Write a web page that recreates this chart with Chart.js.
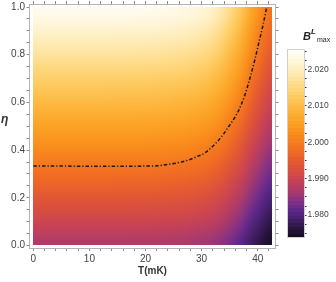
<!DOCTYPE html>
<html><head><meta charset="utf-8">
<script src="https://cdn.jsdelivr.net/npm/chart.js@4"></script>
<style>
html,body{margin:0;padding:0;background:#fff;}
#wrap{position:relative;width:336px;height:282px;overflow:hidden;font-family:'Liberation Sans',Arial,sans-serif;}
#main{position:absolute;left:0;top:0;}
#cb{position:absolute;left:284px;top:40px;}
#eta{position:absolute;left:1px;top:112px;font:bold italic 12px 'Liberation Sans',Arial,sans-serif;color:#333;line-height:14px;}
#cbt{position:absolute;left:303px;top:30px;color:#222;white-space:nowrap;width:33px;height:16px;}
#cbt span{position:absolute;line-height:1;}
#cbt .B{left:0;top:0;font:bold italic 11px 'Liberation Sans',Arial,sans-serif;}
#cbt .L{left:8px;top:-3px;font:bold italic 8px 'Liberation Sans',Arial,sans-serif;}
#cbt .m{left:14px;top:6px;font:7px 'Liberation Sans',Arial,sans-serif;}
</style></head>
<body><div id="wrap">
<canvas id="main" width="336" height="282"></canvas>
<canvas id="cb" width="52" height="205"></canvas>
<div id="eta">η</div>
<div id="cbt"><span class="B">B</span><span class="L">L</span><span class="m">max</span></div>
</div>
<script>
// ---- data ----
const xTickVals = [0,2,4,6,8,10,12,14,16,18,20,22,24,26,28,30,32,34,36,38,40,42];
const xLabelTicks = [0,10,20,30,40];
const yTickVals = [0,0.05,0.1,0.15,0.2,0.25,0.3,0.35,0.4,0.45,0.5,0.55,0.6,0.65,0.7,0.75,0.8,0.85,0.9,0.95,1.0];
const yLabelTicks = [0,0.2,0.4,0.6,0.8,1.0];
const cbTickVals = [1.975,1.9775,1.98,1.9825,1.985,1.9875,1.99,1.9925,1.995,1.9975,2.0,2.0025,2.005,2.0075,2.01,2.0125,2.015,2.0175,2.02,2.0225,2.025];
const cbLabelTicks = [1.98,1.99,2.00,2.01,2.02];

// B^L_max sampled on a grid: T (mK) sample positions, eta sample positions, one row per eta
const tRange = [0, 42.6];
const etaRange = [0, 1];
const tSamples = [5,13,18,21.5,24.5,27,29,31,32.75,34.25,35.75,37,38,39,40,41,42.05];
const etaSamples = [0.025,0.075,0.125,0.175,0.225,0.275,0.325,0.375,0.425,0.475,0.525,0.575,0.625,0.675,0.725,0.775,0.825,0.875,0.925,0.975];
const r00 = [1.9875,1.9875,1.9874,1.9874,1.9872,1.9870,1.9866,1.9861,1.9852,1.9841,1.9827,1.9813,1.9799,1.9785,1.9774,1.9761,1.9751];
const r01 = [1.9894,1.9894,1.9894,1.9893,1.9891,1.9889,1.9885,1.9880,1.9871,1.9859,1.9844,1.9830,1.9815,1.9800,1.9789,1.9776,1.9765];
const r02 = [1.9913,1.9913,1.9913,1.9912,1.9910,1.9908,1.9904,1.9899,1.9889,1.9877,1.9861,1.9847,1.9831,1.9816,1.9804,1.9790,1.9779];
const r03 = [1.9932,1.9932,1.9932,1.9931,1.9929,1.9927,1.9923,1.9918,1.9907,1.9894,1.9878,1.9863,1.9847,1.9831,1.9819,1.9805,1.9793];
const r04 = [1.9952,1.9952,1.9951,1.9950,1.9948,1.9946,1.9942,1.9936,1.9925,1.9912,1.9895,1.9880,1.9863,1.9846,1.9833,1.9819,1.9807];
const r05 = [1.9971,1.9971,1.9970,1.9970,1.9967,1.9965,1.9961,1.9955,1.9944,1.9930,1.9912,1.9896,1.9879,1.9861,1.9848,1.9833,1.9821];
const r06 = [1.9990,1.9990,1.9990,1.9989,1.9986,1.9984,1.9980,1.9973,1.9962,1.9947,1.9929,1.9913,1.9895,1.9876,1.9862,1.9847,1.9834];
const r07 = [2.0009,2.0009,2.0009,2.0008,2.0005,2.0003,1.9999,1.9992,1.9980,1.9965,1.9946,1.9929,1.9910,1.9891,1.9877,1.9860,1.9847];
const r08 = [2.0029,2.0029,2.0028,2.0027,2.0024,2.0022,2.0017,2.0010,1.9998,1.9983,1.9963,1.9945,1.9925,1.9906,1.9891,1.9874,1.9860];
const r09 = [2.0048,2.0048,2.0047,2.0046,2.0044,2.0041,2.0036,2.0029,2.0016,2.0000,1.9980,1.9961,1.9941,1.9921,1.9905,1.9887,1.9873];
const r10 = [2.0067,2.0067,2.0067,2.0066,2.0063,2.0060,2.0055,2.0048,2.0034,2.0017,1.9996,1.9977,1.9956,1.9935,1.9918,1.9900,1.9885];
const r11 = [2.0086,2.0086,2.0086,2.0085,2.0082,2.0079,2.0074,2.0066,2.0052,2.0035,2.0013,1.9993,1.9971,1.9949,1.9932,1.9913,1.9898];
const r12 = [2.0106,2.0106,2.0105,2.0104,2.0101,2.0097,2.0093,2.0085,2.0070,2.0052,2.0030,2.0009,1.9986,1.9963,1.9945,1.9926,1.9910];
const r13 = [2.0125,2.0125,2.0124,2.0123,2.0120,2.0116,2.0112,2.0103,2.0088,2.0070,2.0046,2.0024,2.0001,1.9977,1.9959,1.9939,1.9922];
const r14 = [2.0144,2.0144,2.0144,2.0142,2.0139,2.0135,2.0130,2.0121,2.0106,2.0087,2.0062,2.0040,2.0015,1.9991,1.9972,1.9951,1.9934];
const r15 = [2.0163,2.0163,2.0163,2.0162,2.0158,2.0154,2.0149,2.0140,2.0124,2.0104,2.0079,2.0055,2.0030,2.0005,1.9985,1.9964,1.9946];
const r16 = [2.0183,2.0183,2.0182,2.0181,2.0177,2.0173,2.0168,2.0158,2.0142,2.0121,2.0095,2.0071,2.0045,2.0019,1.9998,1.9976,1.9957];
const r17 = [2.0202,2.0202,2.0201,2.0200,2.0196,2.0192,2.0186,2.0177,2.0160,2.0138,2.0111,2.0086,2.0059,2.0032,2.0011,1.9988,1.9968];
const r18 = [2.0221,2.0221,2.0220,2.0219,2.0215,2.0211,2.0205,2.0195,2.0177,2.0155,2.0127,2.0101,2.0073,2.0045,2.0023,1.9999,1.9980];
const r19 = [2.0240,2.0240,2.0240,2.0238,2.0234,2.0230,2.0224,2.0214,2.0195,2.0172,2.0143,2.0117,2.0088,2.0059,2.0036,2.0011,1.9990];
const bMax = [r00,r01,r02,r03,r04,r05,r06,r07,r08,r09,r10,r11,r12,r13,r14,r15,r16,r17,r18,r19];

// dash-dot curve
const curveT   = [0,5,10,15,20,22,24,26,27.6,29.1,30.5,31.7,32.9,33.9,34.8,35.7,36.5,37.7,38.6,39.5,40.3,41.0,41.6];
const curveEta = [0.333,0.333,0.332,0.332,0.333,0.334,0.340,0.348,0.358,0.372,0.387,0.410,0.438,0.467,0.498,0.529,0.561,0.630,0.700,0.780,0.860,0.930,1.000];

// ---- colour scale (style) ----
const colorStops = [
  [1.9740,'#140b1c'],[1.9765,'#2a1540'],[1.9790,'#45206a'],[1.9815,'#5f2889'],
  [1.9840,'#863285'],[1.9865,'#a83a6c'],[1.9890,'#c2405a'],[1.9915,'#d34a46'],
  [1.9940,'#e05636'],[1.9965,'#ec6428'],[1.9990,'#f47420'],[2.0015,'#f8861c'],
  [2.0040,'#fb9820'],[2.0065,'#fca72a'],[2.0090,'#fdb53c'],[2.0115,'#fdc455'],
  [2.0140,'#fed271'],[2.0165,'#fedf92'],[2.0190,'#feeab3'],[2.0215,'#fff3d2'],
  [2.0240,'#fffaec'],[2.0253,'#fffefa']
];
function hexRgb(h){return [parseInt(h.substr(1,2),16),parseInt(h.substr(3,2),16),parseInt(h.substr(5,2),16)];}
const stopRgb = colorStops.map(s=>[s[0], hexRgb(s[1])]);
function rgbFor(v){
  if (v <= stopRgb[0][0]) return stopRgb[0][1];
  for (let i=1;i<stopRgb.length;i++){
    if (v <= stopRgb[i][0]){
      const [v0,a]=stopRgb[i-1],[v1,b]=stopRgb[i];
      const f=(v-v0)/(v1-v0);
      return a.map((x,k)=>Math.round(x+(b[k]-x)*f));
    }
  }
  return stopRgb[stopRgb.length-1][1];
}
function colorFor(v){ return 'rgb('+rgbFor(v).join(',')+')'; }

// locate value within a sorted sample list -> [index, fraction]
function locate(arr, v){
  if (v <= arr[0]) return [0,0];
  if (v >= arr[arr.length-1]) return [arr.length-2,1];
  let i=0; while (v > arr[i+1]) i++;
  return [i,(v-arr[i])/(arr[i+1]-arr[i])];
}
function sampleAt(t, e){
  const [i,fx]=locate(tSamples,t), [j,fy]=locate(etaSamples,e);
  const a=bMax[j][i], b=bMax[j][i+1], c=bMax[j+1][i], d=bMax[j+1][i+1];
  return (a*(1-fx)+b*fx)*(1-fy)+(c*(1-fx)+d*fx)*fy;
}

const FONT = "'Liberation Sans', Arial, sans-serif";
Chart.defaults.font.family = FONT;
const near = (arr,v) => arr.some(t => Math.abs(t-v) < 1e-9);

// density plot drawn through the chart's x/y scales
const heatPlugin = {
  id:'heat',
  beforeDatasetsDraw(chart){
    const {ctx, scales:{x,y}} = chart;
    const x0=Math.round(x.getPixelForValue(tRange[0])), x1=Math.round(x.getPixelForValue(tRange[1]));
    const y0=Math.round(y.getPixelForValue(etaRange[1])), y1=Math.round(y.getPixelForValue(etaRange[0]));
    const w=x1-x0, h=y1-y0;
    const img=ctx.createImageData(w,h);
    for (let py=0;py<h;py++){
      const e=y.getValueForPixel(y0+py+0.5);
      for (let px=0;px<w;px++){
        const t=x.getValueForPixel(x0+px+0.5);
        const c=rgbFor(sampleAt(t,e));
        const k=(py*w+px)*4;
        img.data[k]=c[0]; img.data[k+1]=c[1]; img.data[k+2]=c[2]; img.data[k+3]=255;
      }
    }
    ctx.putImageData(img,x0,y0);
  }
};

const axisCommon = {
  grid:{drawOnChartArea:false, drawTicks:true, tickLength:3, tickColor:'#8a8a8a'},
  border:{display:true, color:'#b4b4b4'}
};

new Chart(document.getElementById('main'), {
  type:'scatter',
  data:{datasets:[{
    data: curveT.map((t,i)=>({x:t, y:curveEta[i]})),
    showLine:true, borderColor:'#1a1a1a', borderWidth:1.5,
    borderDash:[3.5,2,1.2,2], pointRadius:0, fill:false,
    cubicInterpolationMode:'monotone'
  }]},
  options:{
    responsive:false, animation:false, devicePixelRatio:1,
    layout:{padding:0},
    plugins:{legend:{display:false}, tooltip:{enabled:false}},
    scales:{
      x:{type:'linear', position:'bottom', min:-0.68, max:43.17, ...axisCommon,
        afterBuildTicks:s=>{s.ticks=xTickVals.map(v=>({value:v}));},
        afterFit:s=>{s.height=34; s.paddingLeft=0; s.paddingRight=0;},
        ticks:{autoSkip:false, maxRotation:0, padding:2, color:'#444', font:{size:10, family:FONT},
          callback:v=>near(xLabelTicks,v)?String(v):''},
        title:{display:true, text:'T(mK)', color:'#333', font:{size:10, weight:'bold', family:FONT}, padding:{top:0,bottom:5}}
      },
      x2:{type:'linear', position:'top', min:-0.68, max:43.17, ...axisCommon,
        afterBuildTicks:s=>{s.ticks=xTickVals.map(v=>({value:v}));},
        afterFit:s=>{s.height=4; s.paddingLeft=0; s.paddingRight=0;},
        ticks:{display:false}
      },
      y:{type:'linear', position:'left', min:-0.0105, max:1.0126, ...axisCommon,
        afterBuildTicks:s=>{s.ticks=yTickVals.map(v=>({value:v}));},
        afterFit:s=>{s.width=29.5; s.paddingTop=0; s.paddingBottom=0;},
        ticks:{autoSkip:false, padding:1.5, color:'#444', font:{size:10, family:FONT},
          callback:v=>near(yLabelTicks,v)?v.toFixed(1):''}
      },
      y2:{type:'linear', position:'right', min:-0.0105, max:1.0126, ...axisCommon,
        afterBuildTicks:s=>{s.ticks=yTickVals.map(v=>({value:v}));},
        afterFit:s=>{s.width=60.5; s.paddingTop=0; s.paddingBottom=0;},
        ticks:{display:false}
      }
    }
  },
  plugins:[heatPlugin]
});

// ---- colour bar ----
const cbPlugin = {
  id:'cbar',
  beforeDatasetsDraw(chart){
    const {ctx, chartArea:a, scales:{y}} = chart;
    ctx.save();
    const step = 0.001;
    for (let v=y.min; v<y.max-1e-9; v+=step){
      const top = y.getPixelForValue(Math.min(v+step, y.max)), bot = y.getPixelForValue(v);
      ctx.fillStyle = colorFor(v+step/2);
      ctx.fillRect(a.left, Math.floor(top), a.right-a.left, Math.ceil(bot)-Math.floor(top));
    }
    ctx.strokeStyle='#cfcfcf'; ctx.lineWidth=1;
    ctx.strokeRect(a.left-0.5, a.top-0.5, a.right-a.left+1, a.bottom-a.top+1);
    ctx.restore();
  }
};
new Chart(document.getElementById('cb'), {
  type:'bar',
  data:{labels:[''], datasets:[]},
  options:{
    responsive:false, animation:false, devicePixelRatio:1,
    layout:{padding:{left:4, top:10, bottom:8, right:0}},
    plugins:{legend:{display:false}, tooltip:{enabled:false}},
    scales:{
      x:{display:false},
      y:{type:'linear', position:'right', min:1.974, max:2.0253,
        afterBuildTicks:s=>{s.ticks=cbTickVals.map(v=>({value:v}));},
        afterFit:s=>{s.width=32; s.paddingTop=0; s.paddingBottom=0;},
        grid:{drawOnChartArea:false, drawTicks:true, tickLength:2.5, tickColor:'#333'},
        border:{display:false},
        ticks:{autoSkip:false, padding:1, color:'#444', font:{size:8.5, family:FONT},
          callback:v=>near(cbLabelTicks,v)?v.toFixed(3):''}
      }
    }
  },
  plugins:[cbPlugin]
});
</script>
</body></html>
